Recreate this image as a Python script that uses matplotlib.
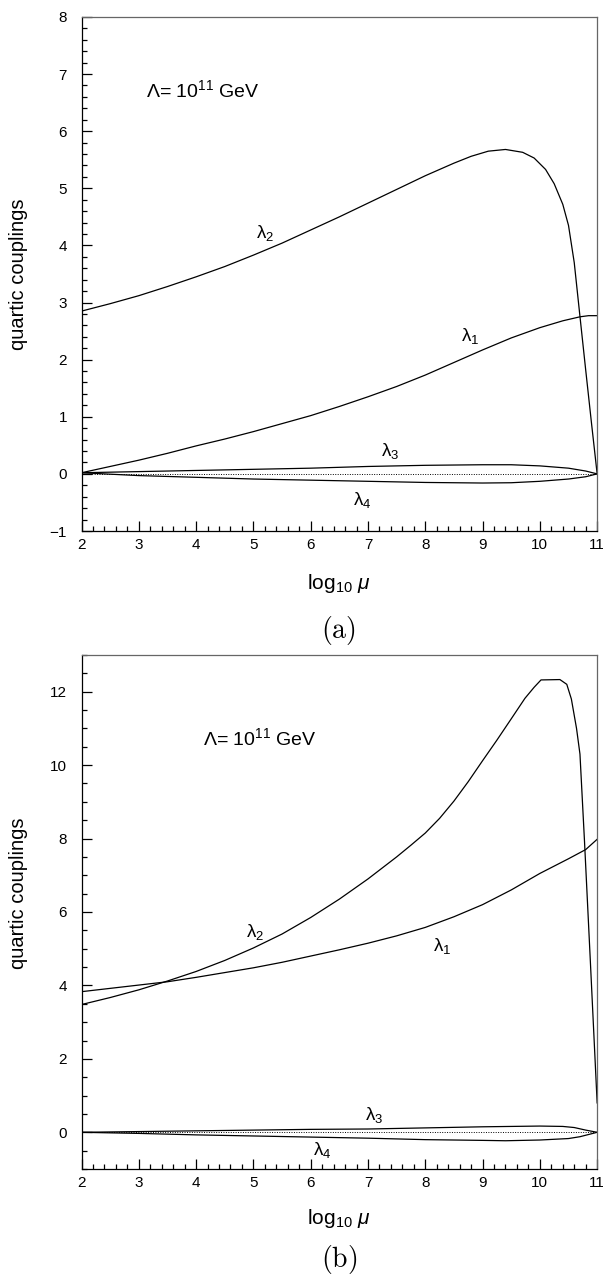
import numpy as np
import matplotlib
matplotlib.use('Agg')
import matplotlib.pyplot as plt
from matplotlib.ticker import MultipleLocator

plt.rcParams['font.family'] = ['Liberation Sans', 'DejaVu Sans']
plt.rcParams['mathtext.fontset'] = 'custom'
plt.rcParams['mathtext.rm'] = 'Liberation Sans'
plt.rcParams['mathtext.it'] = 'Liberation Sans:italic'
plt.rcParams['mathtext.bf'] = 'Liberation Sans:bold'

# ---- panel (a) data ----
xa_l2 = [2.0, 2.5, 3.0, 3.5, 4.0, 4.5, 5.0, 5.5, 6.0, 6.5, 7.0, 7.5, 8.0, 8.5, 8.8, 9.1,
         9.4, 9.7, 9.9, 10.1, 10.25, 10.4, 10.5, 10.6, 10.69, 10.8, 10.9, 11.0]
ya_l2 = [2.85, 2.98, 3.12, 3.28, 3.45, 3.63, 3.83, 4.04, 4.27, 4.50, 4.74, 4.98, 5.22, 5.44, 5.56, 5.65,
         5.68, 5.63, 5.53, 5.33, 5.08, 4.72, 4.35, 3.70, 2.85, 1.82, 0.90, 0.0]

xa_l1 = [2.0, 2.5, 3.0, 3.5, 4.0, 4.5, 5.0, 5.5, 6.0, 6.5, 7.0, 7.5, 8.0, 8.5, 9.0, 9.5,
         10.0, 10.4, 10.7, 10.85, 11.0]
ya_l1 = [0.02, 0.13, 0.24, 0.36, 0.49, 0.61, 0.74, 0.88, 1.02, 1.18, 1.35, 1.53, 1.73, 1.95, 2.17, 2.38,
         2.56, 2.68, 2.75, 2.77, 2.77]

xa_l3 = [2.0, 3.0, 4.0, 5.0, 6.0, 7.0, 8.0, 9.0, 9.5, 10.0, 10.5, 10.8, 11.0]
ya_l3 = [0.02, 0.04, 0.06, 0.08, 0.10, 0.13, 0.15, 0.16, 0.16, 0.14, 0.10, 0.05, 0.0]

xa_l4 = [2.0, 3.0, 4.0, 5.0, 6.0, 7.0, 8.0, 9.0, 9.5, 10.0, 10.5, 10.8, 11.0]
ya_l4 = [0.02, -0.03, -0.06, -0.09, -0.11, -0.13, -0.15, -0.16, -0.155, -0.13, -0.09, -0.05, 0.0]

# ---- panel (b) data ----
xb_l2 = [2.0, 2.5, 3.0, 3.5, 4.0, 4.5, 5.0, 5.5, 6.0, 6.5, 7.0, 7.5, 7.75, 8.0, 8.25, 8.5, 8.75,
         9.0, 9.25, 9.5, 9.74, 9.9, 10.02, 10.35, 10.47, 10.55, 10.64, 10.70, 10.78, 10.88, 11.0]
yb_l2 = [3.48, 3.67, 3.88, 4.12, 4.38, 4.68, 5.02, 5.40, 5.85, 6.35, 6.90, 7.50, 7.82, 8.15, 8.55, 9.02, 9.55,
         10.12, 10.68, 11.26, 11.82, 12.12, 12.32, 12.33, 12.2, 11.8, 11.0, 10.3, 7.9, 4.7, 0.8]

xb_l1 = [2.0, 2.5, 3.0, 3.5, 4.0, 4.5, 5.0, 5.5, 6.0, 6.5, 7.0, 7.5, 8.0, 8.5, 9.0, 9.5,
         10.0, 10.5, 10.8, 11.0]
yb_l1 = [3.83, 3.92, 4.01, 4.10, 4.22, 4.35, 4.48, 4.63, 4.80, 4.97, 5.15, 5.35, 5.58, 5.87, 6.20, 6.60,
         7.05, 7.45, 7.70, 7.98]

xb_l3 = [2.0, 3.0, 4.0, 5.0, 6.0, 7.0, 8.0, 9.0, 10.0, 10.4, 10.6, 10.8, 11.0]
yb_l3 = [0.0, 0.02, 0.04, 0.06, 0.08, 0.09, 0.12, 0.15, 0.17, 0.16, 0.13, 0.06, 0.0]

xb_l4 = [2.0, 3.0, 4.0, 5.0, 6.0, 7.0, 8.0, 9.0, 9.4, 10.0, 10.5, 10.7, 11.0]
yb_l4 = [0.0, -0.03, -0.07, -0.10, -0.13, -0.16, -0.20, -0.22, -0.23, -0.21, -0.17, -0.12, 0.0]

# label positions (data coords)
labels_a = [('λ$_2$', 5.2, 4.22), ('λ$_1$', 8.78, 2.42), ('λ$_3$', 7.38, 0.40), ('λ$_4$', 6.9, -0.46)]
labels_b = [('λ$_2$', 5.03, 5.45), ('λ$_1$', 8.29, 5.07), ('λ$_3$', 7.1, 0.46), ('λ$_4$', 6.2, -0.49)]


def style_axes(ax, ymin, ymax, ymajor, yminor):
    ax.set_xlim(2, 11)
    ax.set_ylim(ymin, ymax)
    ax.xaxis.set_major_locator(MultipleLocator(1))
    ax.xaxis.set_minor_locator(MultipleLocator(0.2))
    ax.yaxis.set_major_locator(MultipleLocator(ymajor))
    ax.yaxis.set_minor_locator(MultipleLocator(yminor))
    ax.tick_params(which='both', direction='in', top=False, right=False, width=0.9, colors='black')
    ax.tick_params(which='major', length=7.5)
    ax.tick_params(which='minor', length=3.8)
    ax.tick_params(axis='y', which='major', pad=10.4, labelsize=11)
    ax.tick_params(axis='x', which='major', pad=5, labelsize=11)
    for side in ['left', 'bottom']:
        ax.spines[side].set_color('black')
        ax.spines[side].set_linewidth(0.9)
    for side in ['top', 'right']:
        ax.spines[side].set_color('#666666')
        ax.spines[side].set_linewidth(0.9)
    ax.set_ylabel('quartic couplings', fontsize=14.5)
    ax.set_xlabel(r'log$_{10}$ $\mathit{\mu}$', fontsize=15)


fig = plt.figure(figsize=(6.03, 12.74), dpi=100)
ax_a = fig.add_axes([0.1352, 0.5832, 0.8551, 0.4035])
ax_b = fig.add_axes([0.1352, 0.0824, 0.8551, 0.4035])

lw = 0.9
# panel (a)
ax_a.plot(xa_l2, ya_l2, color='black', lw=lw)
ax_a.plot(xa_l1, ya_l1, color='black', lw=lw)
ax_a.plot(xa_l3, ya_l3, color='black', lw=lw)
ax_a.plot(xa_l4, ya_l4, color='black', lw=lw)
ax_a.plot([2, 11], [0, 0], color='black', lw=0.7, ls=(0, (1, 1.5)))
style_axes(ax_a, -1, 8, 1, 0.2)
ax_a.text(3.13, 6.72, 'Λ= 10$^{11}$ GeV', fontsize=14, ha='left', va='center')
for txt, x, y in labels_a:
    ax_a.text(x, y, txt, fontsize=13.5, ha='center', va='center')
ax_a.yaxis.set_label_coords(-0.104, 0.5)
ax_a.xaxis.set_label_coords(0.5, -0.08)

# panel (b)
ax_b.plot(xb_l2, yb_l2, color='black', lw=lw)
ax_b.plot(xb_l1, yb_l1, color='black', lw=lw)
ax_b.plot(xb_l3, yb_l3, color='black', lw=lw)
ax_b.plot(xb_l4, yb_l4, color='black', lw=lw)
ax_b.plot([2, 11], [0, 0], color='black', lw=0.7, ls=(0, (1, 1.5)))
style_axes(ax_b, -1, 13, 2, 0.5)
ax_b.text(4.12, 10.74, 'Λ= 10$^{11}$ GeV', fontsize=14, ha='left', va='center')
for txt, x, y in labels_b:
    ax_b.text(x, y, txt, fontsize=13.5, ha='center', va='center')
ax_b.yaxis.set_label_coords(-0.104, 0.537)
ax_b.xaxis.set_label_coords(0.5, -0.074)

# captions
fig.text(0.562, 0.505, r'$\mathrm{(a)}$', fontsize=20, ha='center', va='center', math_fontfamily='cm')
fig.text(0.562, 0.011, r'$\mathrm{(b)}$', fontsize=20, ha='center', va='center', math_fontfamily='cm')

fig.savefig('out.png', dpi=100)
